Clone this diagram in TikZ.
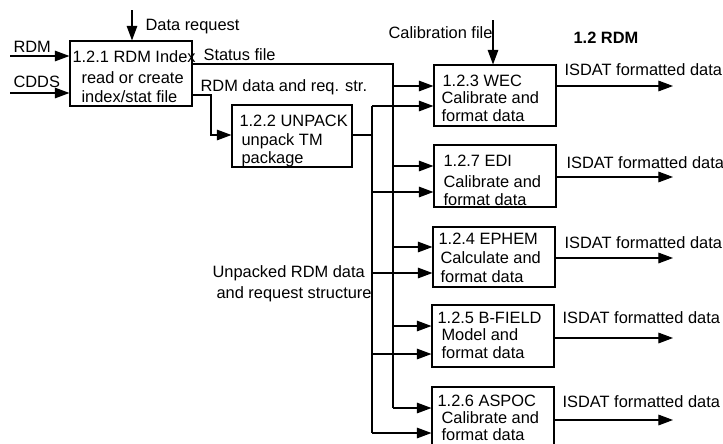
\documentclass[tikz,border=0pt]{standalone}
\usepackage{fontspec}
\setmainfont{Liberation Sans}
\usetikzlibrary{arrows.meta,fit}
\begin{document}
\begin{tikzpicture}[
    x=0.75pt, y=-0.75pt,
    font=\fontsize{12.3pt}{14pt}\selectfont,
    line width=0.85pt,
    proc/.style={draw, line width=0.85pt, inner sep=0pt},
    txt/.style={anchor=base west, inner sep=0pt},
    flow/.style={-{Triangle[length=11pt,width=8pt]}}
  ]
  \useasboundingbox (0,0) rectangle (723,443);

  % process boxes
  \node[proc, fit={(70,41) (192,106)}]   (b121)  {};
  \node[proc, fit={(232,105) (352,167)}] (b122)  {};
  \node[proc, fit={(434,65) (556,126)}]  (wec)   {};
  \node[proc, fit={(434,145) (556,207)}] (edi)   {};
  \node[proc, fit={(433,227) (555,287)}] (ephem) {};
  \node[proc, fit={(432,305) (554,367)}] (bfield){};
  \node[proc, fit={(432,387) (554,452)}] (aspoc) {};

  % box texts
  \node[txt] (t121a) at (72,62)   {1.2.1 RDM Index};
  \node[txt] (t121b) at (81,83)   {read or create};
  \node[txt] (t121c) at (81,102)  {index/stat file};
  \node[txt] (t122a) at (239,126) {1.2.2 UNPACK};
  \node[txt] (t122b) at (241,145) {unpack TM};
  \node[txt] (t122c) at (241,163) {package};
  \node[txt] (t123a) at (442,86)  {1.2.3 WEC};
  \node[txt] (t123b) at (441,103) {Calibrate and};
  \node[txt] (t123c) at (441,121) {format data};
  \node[txt] (t127a) at (443,166) {1.2.7 EDI};
  \node[txt] (t127b) at (443,187) {Calibrate and};
  \node[txt] (t127c) at (443,205) {format data};
  \node[txt] (t124a) at (438,244) {1.2.4 EPHEM};
  \node[txt] (t124b) at (440,263) {Calculate and};
  \node[txt] (t124c) at (440,282) {format data};
  \node[txt] (t125a) at (437,323) {1.2.5 B-FIELD};
  \node[txt] (t125b) at (441,340) {Model and};
  \node[txt] (t125c) at (441,358) {format data};
  \node[txt] (t126a) at (437,406) {1.2.6 ASPOC};
  \node[txt] (t126b) at (441,423) {Calibrate and};
  \node[txt] (t126c) at (441,440) {format data};

  % flow labels
  \node[txt] (lreq)  at (145,30)  {Data request};
  \node[txt] (lrdm)  at (13,52)   {RDM};
  \node[txt] (lcdds) at (13,87)   {CDDS};
  \node[txt] (lstat) at (203,60)  {Status file};
  \node[txt] (ldata) at (200,91)  {RDM data and req. str.};
  \node[txt] (lcal)  at (388,38)  {Calibration file};
  \node[txt, font=\fontsize{12.3pt}{14pt}\selectfont\bfseries] (ltitle) at (573,43) {1.2 RDM};
  \node[txt] (lunpa) at (212,277) {Unpacked RDM data};
  \node[txt] (lunpb) at (216,298) {and request structure};
  \node[txt] (lout1) at (564,75)  {ISDAT formatted data};
  \node[txt] (lout2) at (566,168) {ISDAT formatted data};
  \node[txt] (lout3) at (564,248) {ISDAT formatted data};
  \node[txt] (lout4) at (562,323) {ISDAT formatted data};
  \node[txt] (lout5) at (562,407) {ISDAT formatted data};

  % inputs to the index box
  \coordinate (rdmsrc)  at (10,56);
  \coordinate (cddssrc) at (10,93);
  \coordinate (reqsrc)  at (132,10);
  \draw[flow] (rdmsrc)  -- (rdmsrc -| b121.west);
  \draw[flow] (cddssrc) -- (cddssrc -| b121.west);
  \draw[flow] (reqsrc)  -- (reqsrc |- b121.north);

  % calibration file into WEC
  \coordinate (calsrc) at (493,20);
  \draw[flow] (calsrc) -- (calsrc |- wec.north);

  % status file bus
  \coordinate (stbus) at (393,64);
  \coordinate (stend) at (393,408);
  \draw (stbus -| b121.east) -- (stbus) -- (stend);

  % RDM data to UNPACK
  \coordinate (rdmbend) at (211,95);
  \coordinate (upj) at (372,135);
  \draw[flow] (rdmbend -| b121.east) -- (rdmbend) |- (upj -| b122.west);

  % unpacked data bus
  \coordinate (upbusT) at (372,106);
  \coordinate (upbusB) at (372,433);
  \draw (upj -| b122.east) -- (upj);
  \draw (upbusT) -- (upbusB);

  % bus taps into each instrument box and outputs
  \foreach \bx/\ya/\yb/\yo in {wec/86/106/86, edi/166/192/177, ephem/247/273/258,
                               bfield/326/354/338, aspoc/408/433/420} {
    \draw[flow] (stbus |- 0,\ya) -- (\bx.west |- 0,\ya);
    \draw[flow] (upbusT |- 0,\yb) -- (\bx.west |- 0,\yb);
    \draw[flow] (\bx.east |- 0,\yo) -- (673,\yo);
  }
\end{tikzpicture}
\end{document}
